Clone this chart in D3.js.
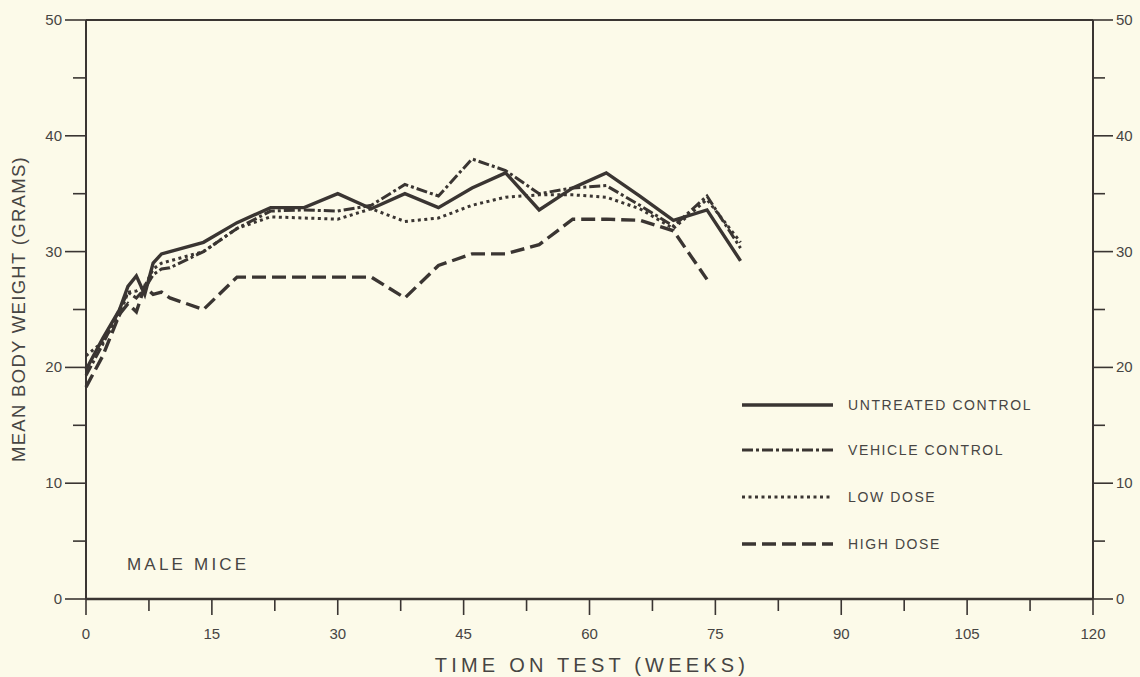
<!DOCTYPE html>
<html><head><meta charset="utf-8">
<script src="https://cdn.jsdelivr.net/npm/d3@7"></script>
<style>
html,body{margin:0;padding:0;background:#fcfae9;}
svg{display:block;}
text{font-family:"Liberation Sans","Helvetica",Arial,sans-serif;fill:#474543;}
</style></head>
<body><svg id="c" width="1140" height="677"></svg>
<script>
const weeks = [0,2,4,5,6,7,8,9,10,14,18,22,26,30,34,38,42,46,50,54,58,62,66,70,74,78];
const untreated = [19.8,22.5,25,27,27.9,26.3,29,29.8,30,30.8,32.5,33.8,33.8,35,33.7,35,33.8,35.5,36.8,33.6,35.5,36.8,34.8,32.7,33.6,29.2];
const vehicle   = [19.3,22,25,26.5,26,26.8,28,28.5,28.6,30,32,33.5,33.6,33.5,34,35.8,34.8,38,37,35,35.5,35.7,34,32.2,34.8,30.3];
const lowDose   = [21,22.2,24.5,26.5,26.6,27,28.5,29,29.2,30,32,33,32.9,32.8,33.7,32.6,32.9,34,34.7,34.9,34.9,34.7,33.7,32,34.5,30.8];
const highWeeks = [0,2,4,5,6,7,8,9,10,14,18,22,26,30,34,38,42,46,50,54,58,62,66,70,74];
const highDose  = [18.3,21,24.6,25.5,24.8,27,26.3,26.5,26,25,27.8,27.8,27.8,27.8,27.8,26,28.8,29.8,29.8,30.6,32.8,32.8,32.7,31.8,27.6];
const xTicks = [0,15,30,45,60,75,90,105,120];
const yTicks = [0,10,20,30,40,50];
const seriesNames = ["UNTREATED CONTROL","VEHICLE CONTROL","LOW DOSE","HIGH DOSE"];

const svg = d3.select("#c");
const L=86, R=1093, T=20, B=599;
const x = d3.scaleLinear().domain([0,120]).range([L,R]);
const y = d3.scaleLinear().domain([0,50]).range([B,T]);
const ink = "#3a3532";

// frame
const g = svg.append("g");
g.append("line").attr("x1",L).attr("x2",R).attr("y1",T).attr("y2",T).attr("stroke",ink).attr("stroke-width",2);
g.append("line").attr("x1",L).attr("x2",R).attr("y1",B).attr("y2",B).attr("stroke",ink).attr("stroke-width",2.5);
g.append("line").attr("x1",L).attr("x2",L).attr("y1",T).attr("y2",B).attr("stroke",ink).attr("stroke-width",2);
g.append("line").attr("x1",R).attr("x2",R).attr("y1",T).attr("y2",B).attr("stroke",ink).attr("stroke-width",2);

// left axis
const yMinor = d3.range(5,50,10);
g.selectAll(".ylM").data(yTicks).enter().append("line")
  .attr("x1",L-21).attr("x2",L).attr("y1",d=>y(d)).attr("y2",d=>y(d)).attr("stroke",ink).attr("stroke-width",1.6);
g.selectAll(".ylm").data(yMinor).enter().append("line")
  .attr("x1",L-13).attr("x2",L).attr("y1",d=>y(d)).attr("y2",d=>y(d)).attr("stroke",ink).attr("stroke-width",1.6);
g.selectAll(".yll").data(yTicks).enter().append("text")
  .attr("x",L-24).attr("y",d=>y(d)+5).attr("text-anchor","end").attr("font-size",15).text(d=>d);
// right axis
g.selectAll(".yrM").data(yTicks).enter().append("line")
  .attr("x1",R).attr("x2",R+20).attr("y1",d=>y(d)).attr("y2",d=>y(d)).attr("stroke",ink).attr("stroke-width",1.6);
g.selectAll(".yrm").data(yMinor).enter().append("line")
  .attr("x1",R).attr("x2",R+12).attr("y1",d=>y(d)).attr("y2",d=>y(d)).attr("stroke",ink).attr("stroke-width",1.6);
g.selectAll(".yrl").data(yTicks).enter().append("text")
  .attr("x",R+23).attr("y",d=>y(d)+5).attr("text-anchor","start").attr("font-size",15).text(d=>d);
// bottom axis
const xMinor = d3.range(7.5,120,15);
g.selectAll(".xM").data(xTicks).enter().append("line")
  .attr("x1",d=>x(d)).attr("x2",d=>x(d)).attr("y1",B).attr("y2",B+16).attr("stroke",ink).attr("stroke-width",1.6);
g.selectAll(".xm").data(xMinor).enter().append("line")
  .attr("x1",d=>x(d)).attr("x2",d=>x(d)).attr("y1",B).attr("y2",B+12).attr("stroke",ink).attr("stroke-width",1.6);
g.selectAll(".xl").data(xTicks).enter().append("text")
  .attr("x",d=>x(d)).attr("y",B+40).attr("text-anchor","middle").attr("font-size",15).text(d=>d);

// titles
svg.append("text").attr("x",592).attr("y",672).attr("text-anchor","middle").attr("font-size",20)
  .attr("letter-spacing",4.2).text("TIME ON TEST (WEEKS)");
svg.append("text").attr("transform","translate(25,309) rotate(-90)").attr("text-anchor","middle").attr("font-size",18.5)
  .attr("letter-spacing",1.3).text("MEAN BODY WEIGHT (GRAMS)");
svg.append("text").attr("x",127).attr("y",570).attr("font-size",17).attr("letter-spacing",3.2).text("MALE MICE");

// series
const styles = [
  {w:3.4, dash:null},
  {w:3, dash:"11,3,3,3"},
  {w:3, dash:"3,3.5"},
  {w:3.4, dash:"14,6"}
];
const data = [
  weeks.map((w,i)=>[w,untreated[i]]),
  weeks.map((w,i)=>[w,vehicle[i]]),
  weeks.map((w,i)=>[w,lowDose[i]]),
  highWeeks.map((w,i)=>[w,highDose[i]])
];
const line = d3.line().x(d=>x(d[0])).y(d=>y(d[1]));
data.forEach((d,i)=>{
  svg.append("path").datum(d).attr("d",line).attr("fill","none").attr("stroke",ink)
    .attr("stroke-width",styles[i].w).attr("stroke-dasharray",styles[i].dash)
    .attr("stroke-linejoin","miter");
});

// legend
const legY = [405,450,497,544];
seriesNames.forEach((n,i)=>{
  svg.append("line").attr("x1",742).attr("x2",833).attr("y1",legY[i]).attr("y2",legY[i])
    .attr("stroke",ink).attr("stroke-width",styles[i].w).attr("stroke-dasharray",styles[i].dash);
  svg.append("text").attr("x",848).attr("y",legY[i]+5).attr("font-size",14).attr("letter-spacing",1.6).text(n);
});
</script></body></html>
